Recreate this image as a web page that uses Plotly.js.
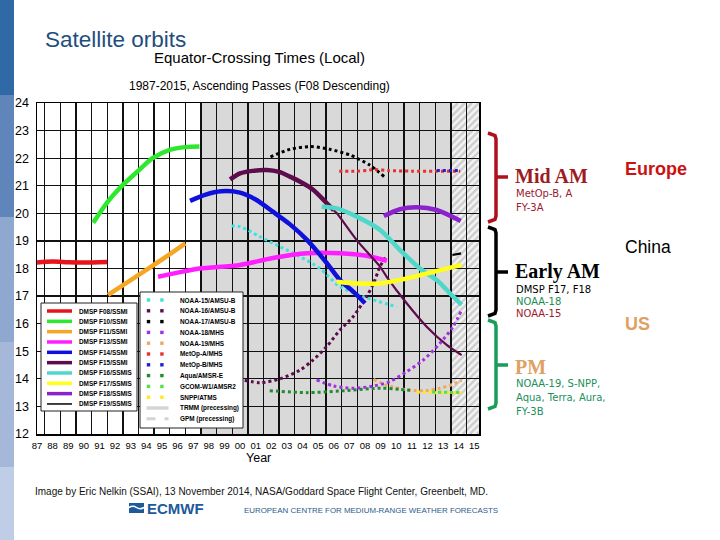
<!DOCTYPE html>
<html><head><meta charset="utf-8">
<script src="https://cdn.plot.ly/plotly-3.0.1.min.js"></script>
<style>html,body{margin:0;padding:0;background:#fff;}#chart{width:720px;height:540px;}</style>
</head><body><div id="chart"></div>
<script>
// ---------------- data ----------------
const yearTicks = [1987,1988,1989,1990,1991,1992,1993,1994,1995,1996,1997,1998,1999,2000,2001,2002,2003,2004,2005,2006,2007,2008,2009,2010,2011,2012,2013,2014,2015];
const yearLabels = ['87','88','89','90','91','92','93','94','95','96','97','98','99','00','01','02','03','04','05','06','07','08','09','10','11','12','13','14','15'];
const hourTicks = [12,13,14,15,16,17,18,19,20,21,22,23,24];
const hourLabels = ['12','13','14','15','16','17','18','19','20','21','22','23','24'];
const shadedYears = [1997.5, 2013.5];
const hatchedYears = [2013.5, 2015.3];

const f08Year = [1987.0, 1988.0, 1989.0, 1990.0, 1991.5];
const f08Hour = [18.22, 18.25, 18.23, 18.22, 18.24];
const f10Year = [1990.6, 1991.5, 1992.5, 1993.5, 1994.4, 1995.5, 1996.5, 1997.4];
const f10Hour = [19.66, 20.4, 21.03, 21.55, 22.0, 22.3, 22.4, 22.42];
const f11Year = [1991.55, 1993.0, 1994.0, 1995.3, 1996.5];
const f11Hour = [17.04, 17.58, 17.95, 18.44, 18.91];
const f13Year = [1994.75, 1996.0, 1997.4, 2000.0, 2002.1, 2004.3, 2006.4, 2008.1, 2009.4];
const f13Hour = [17.7, 17.85, 18.0, 18.13, 18.38, 18.55, 18.55, 18.46, 18.28];
const f14Year = [1996.8, 1997.8, 1998.8, 2000.0, 2001.0, 2002.1, 2003.2, 2004.3, 2005.55, 2006.4, 2007.25, 2008.0];
const f14Hour = [20.45, 20.68, 20.8, 20.75, 20.5, 20.06, 19.6, 19.03, 18.2, 17.58, 17.16, 16.74];
const f15Year = [1999.36, 2000.0, 2000.8, 2001.7, 2002.5, 2003.2, 2004.0, 2004.7, 2005.5, 2006.0];
const f15Hour = [21.23, 21.45, 21.54, 21.57, 21.5, 21.33, 21.1, 20.85, 20.4, 20.11];
const f15LateYear = [2006.0, 2006.2, 2007.47, 2008.96, 2009.39, 2010.67, 2011.95, 2013.23, 2014.19];
const f15LateHour = [20.11, 20.0, 19.03, 18.07, 17.7, 16.74, 15.89, 15.23, 14.86];
const f16Year = [2005.23, 2006.19, 2007.47, 2008.96, 2010.24, 2011.52, 2012.59, 2013.44, 2014.19];
const f16Hour = [20.24, 20.18, 19.88, 19.4, 18.67, 18.0, 17.58, 17.1, 16.68];
const f17Year = [2006.19, 2007.47, 2008.96, 2010.67, 2012.37, 2014.19];
const f17Hour = [17.52, 17.46, 17.46, 17.64, 17.88, 18.13];
const f18Year = [2009.21, 2010.24, 2011.31, 2012.59, 2014.13];
const f18Hour = [19.9, 20.15, 20.22, 20.12, 19.72];
const f19Year = [2013.6, 2014.15];
const f19Hour = [18.49, 18.55];

const noaa15Year = [1999.46, 2000.0, 2001.28, 2002.56, 2003.84, 2005.12, 2006.4, 2007.9, 2010.03];
const noaa15Hour = [19.54, 19.52, 19.15, 18.79, 18.43, 18.0, 17.34, 16.98, 16.61];
const noaa16Year = [2000.3, 2001.28, 2002.56, 2003.84, 2004.67, 2005.55, 2006.4, 2007.25, 2008.1, 2008.55, 2008.96, 2009.3];
const noaa16Hour = [13.95, 13.86, 14.0, 14.32, 14.68, 15.17, 15.77, 16.26, 16.98, 17.46, 18.07, 18.4];
const noaa17Year = [2001.95, 2003.2, 2004.5, 2005.75, 2007.05, 2008.3, 2009.35];
const noaa17Hour = [22.05, 22.32, 22.42, 22.32, 22.11, 21.75, 21.27];
const noaa18Year = [2004.9, 2006.0, 2007.25, 2008.55, 2009.6, 2010.67, 2011.73, 2012.8, 2013.65, 2014.19];
const noaa18Hour = [13.96, 13.74, 13.66, 13.74, 13.9, 14.26, 14.68, 15.29, 15.9, 16.5];
const noaa19Year = [2008.55, 2009.4, 2010.2, 2011.1, 2012.0, 2012.8, 2013.6, 2014.19];
const noaa19Hour = [13.98, 13.77, 13.65, 13.58, 13.58, 13.66, 13.8, 13.94];
const metopAYear = [2006.35, 2007.5, 2008.3, 2008.6, 2009.5, 2011.0, 2012.5, 2014.1];
const metopAHour = [21.53, 21.53, 21.57, 21.59, 21.55, 21.53, 21.53, 21.53];
const metopBYear = [2012.6, 2014.1];
const metopBHour = [21.55, 21.55];
const aquaYear = [2001.9, 2004.3, 2006.4, 2009.0, 2010.25, 2011.1];
const aquaHour = [13.57, 13.5, 13.56, 13.66, 13.62, 13.57];
const snppYear = [2011.3, 2012.5, 2014.2];
const snppHour = [13.52, 13.5, 13.5];
const gcomYear = [2012.3, 2014.2];
const gcomHour = [13.52, 13.5];

const dmspNames = ['DMSP F08/SSMI','DMSP F10/SSMI','DMSP F11/SSMI','DMSP F13/SSMI','DMSP F14/SSMI','DMSP F15/SSMI','DMSP F16/SSMIS','DMSP F17/SSMIS','DMSP F18/SSMIS','DMSP F19/SSMIS'];
const dmspColors = ['#e8141a','#2ee82e','#f5a623','#ff1eff','#1010dd','#5e0c4c','#4fd8c9','#ffff1a','#8b22cc','#000000'];
const otherNames = ['NOAA-15/AMSU-B','NOAA-16/AMSU-B','NOAA-17/AMSU-B','NOAA-18/MHS','NOAA-19/MHS','MetOp-A/MHS','MetOp-B/MHS','Aqua/AMSR-E','GCOM-W1/AMSR2','SNPP/ATMS','TRMM (precessing)','GPM (precessing)'];
const otherColors = ['#3ee0e0','#5e0c4c','#000000','#a030e0','#f0a860','#e83030','#2020d0','#208c2c','#50e050','#ffe820','#d4d4d4','#d4d4d4'];

// ---------------- geometry helpers ----------------
const L = 37, R = 479, T = 103, B = 434;
const xp = px => (px - L) / (R - L);
const yp = py => (B - py) / (B - T);
const FONT = 'Liberation Sans, Arial, sans-serif';
const shapes = [];
const annotations = [];
function ann(text, x, y, size, color, extra) {
  annotations.push(Object.assign({
    text: text, xref: 'paper', yref: 'paper', x: xp(x), y: yp(y),
    xanchor: 'left', yanchor: 'middle', showarrow: false,
    font: {family: (extra && extra.family) || FONT, size: size, color: color}
  }, extra && extra.opts ? extra.opts : {}));
}
function pline(x0, y0, x1, y1, color, width, layer, dash) {
  shapes.push({type: 'line', xref: 'paper', yref: 'paper', x0: xp(x0), y0: yp(y0), x1: xp(x1), y1: yp(y1),
    line: {color: color, width: width, dash: dash || 'solid'}, layer: layer || 'above'});
}
function prect(x0, y0, x1, y1, fill, lineColor, lineWidth, layer) {
  shapes.push({type: 'rect', xref: 'paper', yref: 'paper', x0: xp(x0), y0: yp(y1), x1: xp(x1), y1: yp(y0),
    fillcolor: fill, line: {color: lineColor || fill, width: lineWidth || 0}, layer: layer || 'above'});
}

// ---------------- traces ----------------
const traces = [];
function dotted(x, y, color) {
  traces.push({x: x, y: y, type: 'scatter', mode: 'lines', line: {color: color, width: 3, dash: 'dot', shape: 'spline', smoothing: 0.8}, hoverinfo: 'skip', showlegend: false});
}
function solid(x, y, color, width) {
  traces.push({x: x, y: y, type: 'scatter', mode: 'lines', line: {color: color, width: width, shape: 'spline', smoothing: 0.8}, hoverinfo: 'skip', showlegend: false});
}
dotted(noaa15Year, noaa15Hour, otherColors[0]);
dotted(noaa16Year, noaa16Hour, otherColors[1]);
dotted(noaa19Year, noaa19Hour, otherColors[4]);
dotted(aquaYear, aquaHour, otherColors[7]);
dotted(snppYear, snppHour, otherColors[9]);
dotted(gcomYear, gcomHour, otherColors[8]);
dotted(noaa18Year, noaa18Hour, otherColors[3]);
dotted(metopAYear, metopAHour, otherColors[5]);
dotted(metopBYear, metopBHour, otherColors[6]);
dotted(noaa17Year, noaa17Hour, otherColors[2]);

solid(f08Year, f08Hour, dmspColors[0], 4.5);
solid(f10Year, f10Hour, dmspColors[1], 4.5);
solid(f11Year, f11Hour, dmspColors[2], 4.5);
solid(f13Year, f13Hour, dmspColors[3], 4.5);
solid(f14Year, f14Hour, dmspColors[4], 4.5);
solid(f15Year, f15Hour, dmspColors[5], 4.5);
solid(f15LateYear, f15LateHour, dmspColors[5], 2.2);
solid(f16Year, f16Hour, dmspColors[6], 4.5);
solid(f17Year, f17Hour, dmspColors[7], 4.5);
solid(f18Year, f18Hour, dmspColors[8], 4.5);
solid(f19Year, f19Hour, dmspColors[9], 2.2);

// ---------------- background regions ----------------
shapes.push({type: 'rect', xref: 'x', yref: 'paper', x0: shadedYears[0], x1: shadedYears[1], y0: 0, y1: 1,
  fillcolor: '#d9d9d9', line: {width: 0}, layer: 'below'});
shapes.push({type: 'rect', xref: 'x', yref: 'paper', x0: hatchedYears[0], x1: hatchedYears[1], y0: 0, y1: 1,
  fillcolor: '#f3f3f3', line: {width: 0}, layer: 'below'});
(function hatch() {
  const span = 2015.3 - 1987;
  const hx0 = L + (hatchedYears[0] - 1987) / span * (R - L), hx1 = L + (hatchedYears[1] - 1987) / span * (R - L);
  for (let c = hx0 + T; c < hx1 + B; c += 7) {
    const xa = Math.max(hx0, c - B), xb = Math.min(hx1, c - T);
    if (xb <= xa) continue;
    pline(xa, c - xa, xb, c - xb, '#cfcfcf', 2.5, 'below');
  }
})();

// ---------------- slide decoration ----------------
const stripColors = ['#2f6aa7', '#5f85bb', '#8ea8d0', '#a5b8da', '#bfcde6'];
const stripStops = [0, 95, 217, 342, 467, 540];
for (let i = 0; i < stripColors.length; i++) prect(0, stripStops[i], 14, stripStops[i + 1], stripColors[i]);

// ---------------- legends (manual, compact) ----------------
prect(41, 303, 137, 411, '#ffffff', '#222222', 1);
dmspNames.forEach((n, i) => {
  const y = 311 + i * 10.33;
  pline(47, y, 72, y, dmspColors[i], i === 9 ? 1.5 : 3.5);
  ann('<b>' + n + '</b>', 76.5, y, 6.4, '#000');
});
prect(140, 292, 243, 428, '#ffffff', '#222222', 1);
otherNames.forEach((n, i) => {
  const y = 300 + i * 10.8;
  if (i < 10) {
    prect(146.8, y - 1.7, 150.2, y + 1.7, otherColors[i]);
    prect(160.2, y - 1.7, 163.6, y + 1.7, otherColors[i]);
  } else if (i === 10) {
    pline(146.5, y, 168.5, y, otherColors[i], 3.5);
  } else {
    pline(146.5, y, 168.5, y, otherColors[i], 3, 'above', 'dash');
  }
  ann('<b>' + n + '</b>', 177.5, y, 6.4, '#000');
});

// ---------------- brackets ----------------
function bracket(top, bot, mid, color) {
  shapes.push({type: 'path', xref: 'paper', yref: 'paper', layer: 'above',
    path: 'M ' + xp(488) + ',' + yp(top) + ' L ' + xp(495) + ',' + yp(top + 2.5) + ' L ' + xp(496) + ',' + yp(top + 6) +
      ' L ' + xp(496) + ',' + yp(bot - 6) + ' L ' + xp(495) + ',' + yp(bot - 2.5) + ' L ' + xp(488) + ',' + yp(bot) +
      ' M ' + xp(496) + ',' + yp(mid) + ' L ' + xp(508) + ',' + yp(mid),
    line: {color: color, width: 3.5}});
}
bracket(133, 222, 177, '#b0101c');
bracket(227, 316, 272, '#000000');
bracket(320, 409, 365, '#1a9c5a');

// ---------------- texts ----------------
const SERIF = 'Liberation Serif, Times New Roman, serif';
const DV = 'DejaVu Sans, Verdana, sans-serif';
ann('Satellite orbits', 43, 39, 22.5, '#1f4e7d');
ann('Equator-Crossing Times (Local)', 259, 58, 15, '#000', {opts: {xanchor: 'center'}});
ann('1987-2015, Ascending Passes (F08 Descending)', 259, 86, 12, '#000', {opts: {xanchor: 'center'}});
ann('Year', 258, 458.5, 12.5, '#000', {opts: {xanchor: 'center'}});

ann('<b>Mid AM</b>', 513, 176, 20, '#9e1b22', {family: SERIF});
ann('MetOp-B, A', 514, 193.5, 10, '#a01830', {family: DV});
ann('FY-3A', 514, 207.5, 10, '#a01830', {family: DV});
ann('<b>Europe</b>', 623, 169, 18, '#cc1111');
ann('China', 623, 246.5, 17.5, '#000');
ann('<b>Early AM</b>', 513, 271.5, 20, '#000', {family: SERIF});
ann('DMSP F17, F18', 514, 289, 10, '#000', {family: DV});
ann('NOAA-18', 514, 301.5, 10, '#1e8c50', {family: DV});
ann('NOAA-15', 514, 313, 10, '#a01830', {family: DV});
ann('<b>US</b>', 623, 323.5, 18, '#dfa163');
ann('<b>PM</b>', 513, 367, 20, '#dfa163', {family: SERIF});
ann('NOAA-19, S-NPP,', 514, 383.5, 10, '#20905a', {family: DV});
ann('Aqua, Terra, Aura,', 514, 397, 10, '#20905a', {family: DV});
ann('FY-3B', 514, 411.5, 10, '#20905a', {family: DV});

// ECMWF logo
prect(129, 503, 144, 513, '#1b5b9a');
shapes.push({type: 'path', xref: 'paper', yref: 'paper', layer: 'above',
  path: 'M ' + xp(129) + ',' + yp(507.5) + ' Q ' + xp(133) + ',' + yp(505) + ' ' + xp(136.5) + ',' + yp(507.5) + ' T ' + xp(144) + ',' + yp(507.5),
  line: {color: '#ffffff', width: 1.5}});
ann('<b>ECMWF</b>', 145, 508, 15, '#1b5b9a');
ann('Image by Eric Nelkin (SSAI), 13 November 2014, NASA/Goddard Space Flight Center, Greenbelt, MD.', 33, 491, 10, '#111');
ann('EUROPEAN CENTRE FOR MEDIUM-RANGE WEATHER FORECASTS', 242, 510, 7.9, '#2a5a8a');

// ---------------- layout ----------------
const layout = {
  width: 720, height: 540,
  margin: {l: L, r: 720 - R, t: T, b: 540 - B, pad: 0},
  paper_bgcolor: '#ffffff', plot_bgcolor: '#ffffff',
  showlegend: false,
  xaxis: {range: [1987, 2015.3], tickmode: 'array', tickvals: yearTicks, ticktext: yearLabels,
    showgrid: false, zeroline: false, showline: true, mirror: true, linecolor: '#000', linewidth: 1.5,
    ticks: '', ticklabelstandoff: 2, tickfont: {family: FONT, size: 9.5, color: '#000'},
    minor: {tickmode: 'linear', tick0: 1987.5, dtick: 1, showgrid: true, gridcolor: '#111', gridwidth: 1.3, ticks: ''}},
  yaxis: {range: [12, 24], tickmode: 'array', tickvals: hourTicks, ticktext: hourLabels,
    showgrid: true, gridcolor: '#111', gridwidth: 1.2, zeroline: false, showline: true, mirror: true, linecolor: '#000', linewidth: 1.5,
    ticks: '', ticklabelstandoff: 4, tickfont: {family: FONT, size: 12.5, color: '#000'}},
  shapes: shapes,
  annotations: annotations
};
Plotly.newPlot('chart', traces, layout, {displayModeBar: false, staticPlot: true});
</script></body></html>
